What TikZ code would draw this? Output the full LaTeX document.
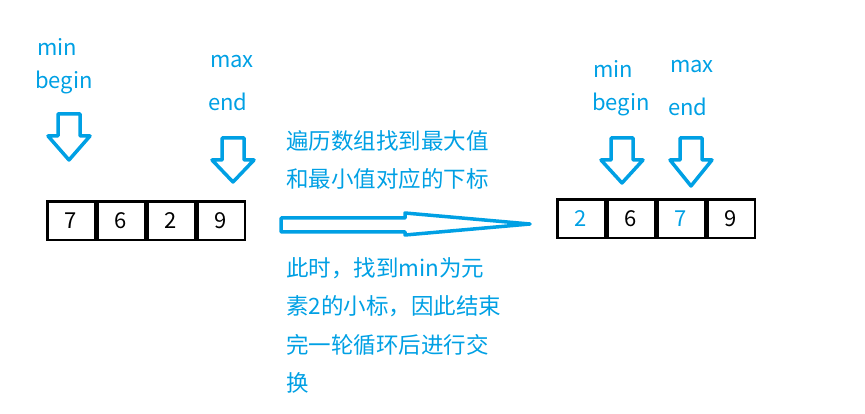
\documentclass[tikz,border=0pt]{standalone}
\usepackage{fontspec}
\usetikzlibrary{positioning}
\setmainfont{Noto Sans CJK SC}
\definecolor{bl}{RGB}{0,160,228}
\begin{document}
\begin{tikzpicture}[x=1pt,y=-1pt,
  ar/.style={draw=bl,line width=3.5pt,line join=round},
  cell/.style={draw,line width=2.5pt,minimum width=47.5pt,minimum height=38.5pt,inner sep=0pt,font=\fontsize{22}{22}\selectfont},
  lbl/.style={text=bl,font=\fontsize{22}{22}\selectfont,inner sep=0pt},
  zh/.style={text=bl,font=\fontsize{22.5}{38.5}\selectfont,align=left,anchor=north west,inner sep=0pt}]
\useasboundingbox (0,0) rectangle (865,414);
\newcommand{\darr}[3]{\draw[ar] (#1-11,#2) -- (#1+11,#2) -- (#1+11,#2+22) -- (#1+21,#2+22) -- (#1,#3) -- (#1-21,#2+22) -- (#1-11,#2+22) -- cycle;}
\darr{69}{114}{160}
\darr{233}{138}{182}
\darr{622}{138}{183}
\darr{691}{138}{186}
\node[lbl] (t1) at (57,47) {min};
\node[lbl] (t2) at (64,82) {begin};
\node[lbl] (t3) at (232,62) {max};
\node[lbl] (t4) at (228,102) {end};
\node[lbl] (t5) at (613,69) {min};
\node[lbl] (t6) at (621,104) {begin};
\node[lbl] (t7) at (692,67) {max};
\node[lbl] (t8) at (688,107) {end};
\node[cell] (a1) at (71,221) {7};
\node[cell,right=0pt of a1] (a2) {6};
\node[cell,right=0pt of a2] (a3) {2};
\node[cell,right=0pt of a3] (a4) {9};
\node[cell] (b1) at (581,219) {\textcolor{bl}{2}};
\node[cell,right=0pt of b1] (b2) {6};
\node[cell,right=0pt of b2] (b3) {\textcolor{bl}{7}};
\node[cell,right=0pt of b3] (b4) {9};
\draw[ar] (281,218) -- (405,218) -- (405,213) -- (530,224) -- (405,235) -- (405,232) -- (281,232) -- cycle;
\node[zh] (z1) at (286,130) {遍历数组找到最大值\\和最小值对应的下标};
\node[zh] (z2) at (286,257) {此时，找到min为元\\素2的小标，因此结束\\完一轮循环后进行交\\换};
\end{tikzpicture}
\end{document}
